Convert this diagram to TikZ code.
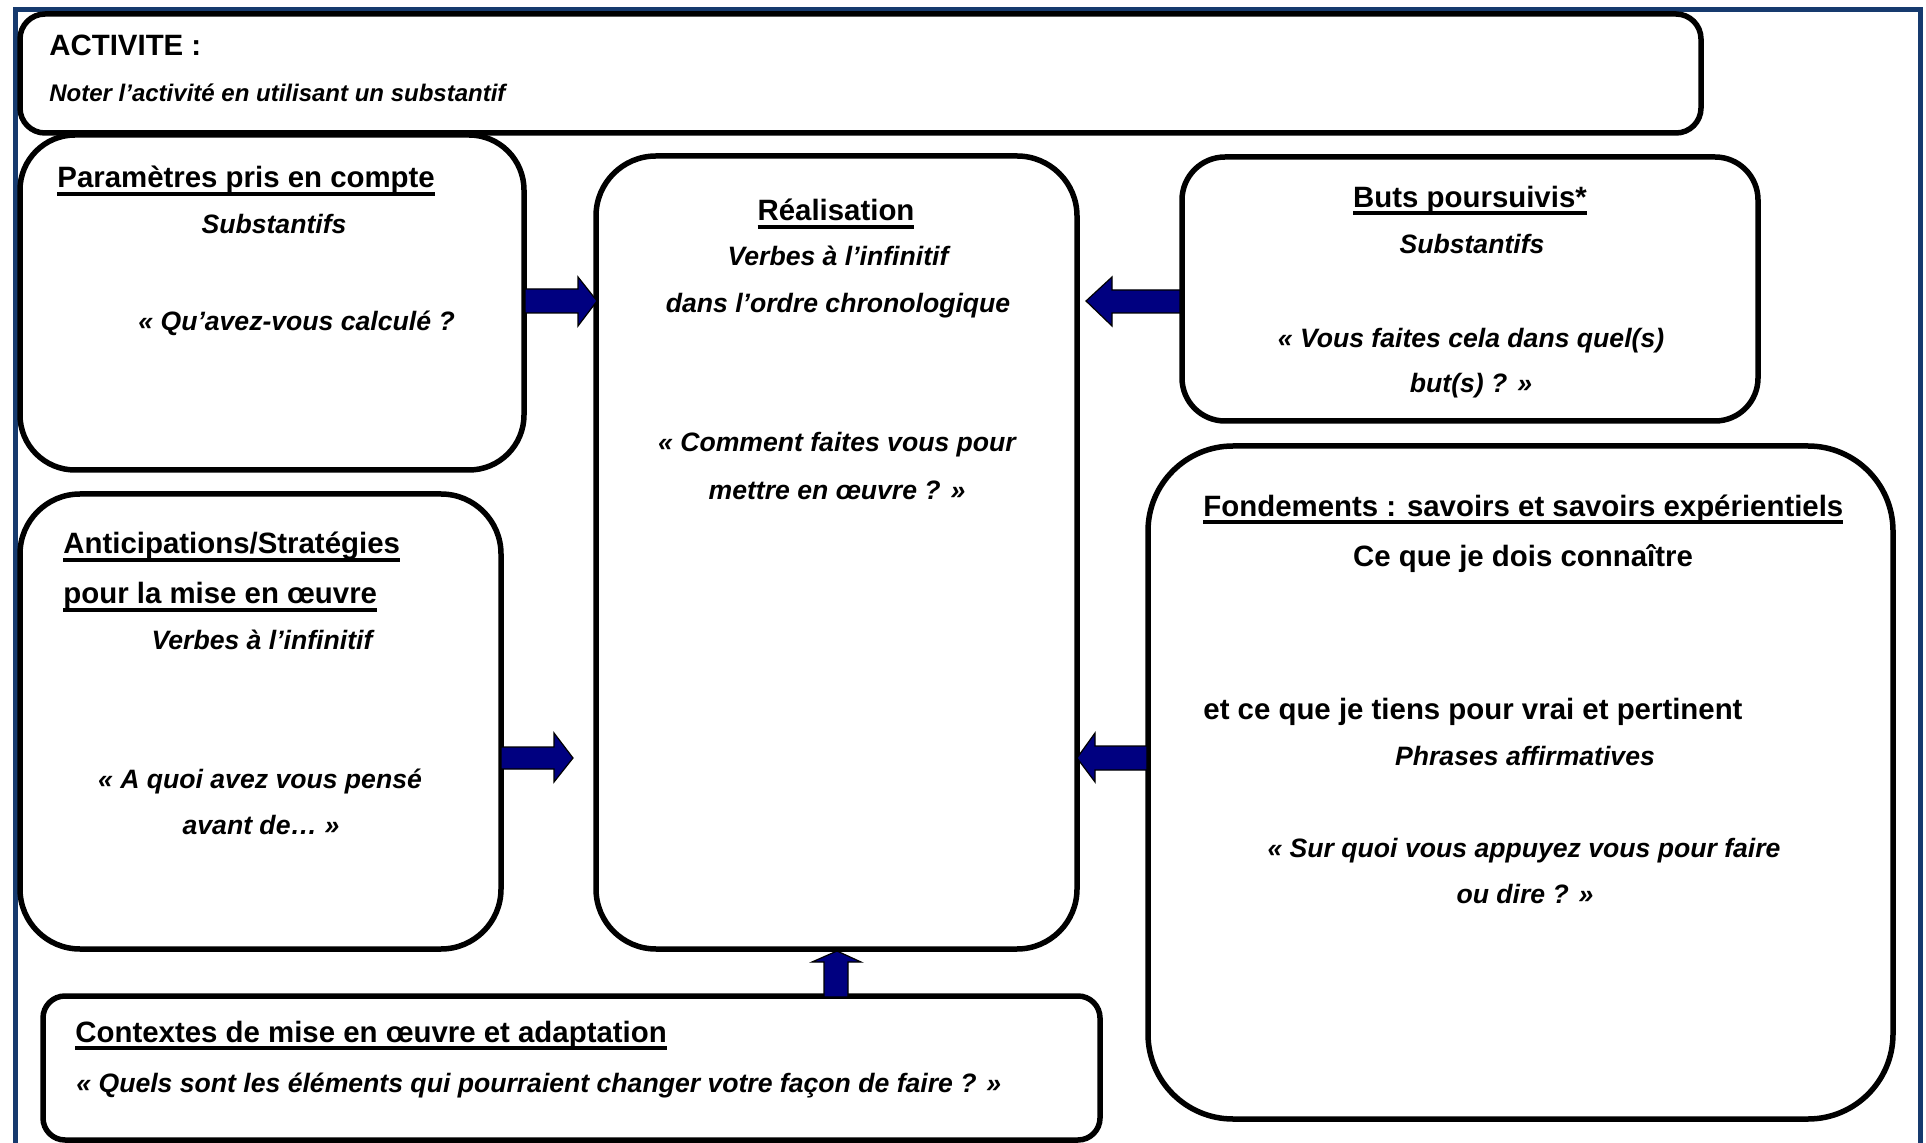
\documentclass[tikz,border=0pt]{standalone}
\usepackage{fontspec}
\setmainfont{Liberation Sans}
\definecolor{bordblue}{RGB}{22,58,110}
\definecolor{arrnavy}{RGB}{0,0,128}
\newcommand\fhead{\fontsize{14.7pt}{17pt}\selectfont\bfseries}
\newcommand\fital{\fontsize{13.3pt}{16pt}\selectfont\bfseries\itshape}
\newcommand\fnote{\fontsize{12pt}{14pt}\selectfont\bfseries\itshape}
\newcommand\myul[1]{\setbox0=\hbox{#1}\rlap{\rule[-4pt]{\wd0}{2pt}}\box0}
\begin{document}
\begin{tikzpicture}[x=0.5pt,y=-0.5pt,
  box/.style={draw=black,line width=2.75pt,fill=white,rectangle,inner sep=0pt},
  txt/.style={inner sep=0pt,anchor=base},
  txtl/.style={inner sep=0pt,anchor=base west},
  barrow/.style={fill=arrnavy,draw=black,line width=0.6pt,line join=miter}]
\useasboundingbox (0,0) rectangle (1926,1143);
\fill[white] (0,0) rectangle (1926,1143);
\draw[bordblue,line width=2.5pt] (15,9.5) rectangle (1920.5,1170);

% boxes
\node[box,rounded corners=12.5pt,minimum width=840.5pt,minimum height=59.5pt] (act) at (860.5,73.5) {};
\node[box,rounded corners=27.5pt,minimum width=252pt,minimum height=167.5pt] (param) at (272,302.5) {};
\node[box,rounded corners=30pt,minimum width=240.5pt,minimum height=396.5pt] (real) at (836.5,552.5) {};
\node[box,rounded corners=21.5pt,minimum width=288pt,minimum height=132pt] (buts) at (1470,289) {};
\node[box,rounded corners=30pt,minimum width=240.5pt,minimum height=227.5pt] (antic) at (260.5,721.5) {};
\node[box,rounded corners=42.5pt,minimum width=372.5pt,minimum height=336.5pt] (fond) at (1520.5,782.5) {};
\node[box,rounded corners=11pt,minimum width=528.5pt,minimum height=72pt] (ctx) at (571.5,1068) {};

% block arrows
\draw[barrow] (525,289) -- (578,289) -- (578,277) -- (597,301) -- (578,326) -- (578,313) -- (525,313) -- cycle;
\draw[barrow] (1180,290) -- (1112,290) -- (1112,277) -- (1086,301) -- (1112,326) -- (1112,313) -- (1180,313) -- cycle;
\draw[barrow] (501,747) -- (554,747) -- (554,733) -- (573,758) -- (554,782) -- (554,769) -- (501,769) -- cycle;
\draw[barrow] (1147,746) -- (1095,746) -- (1095,733) -- (1077,758) -- (1095,782) -- (1095,770) -- (1147,770) -- cycle;
\draw[barrow] (824,997) -- (824,962) -- (812,962) -- (837,951) -- (861,962) -- (848,962) -- (848,997) -- cycle;

% texts: activite
\node[txtl] (a1) at (49,56) {\fhead ACTIVITE :};
\node[txtl] (a2) at (49,102) {\fnote Noter l’activité en utilisant un substantif};
% parametres
\node[txtl] (p1) at (57,188) {\fhead\myul{Paramètres pris en compte}};
\node[txt] (p2) at (274,234) {\fital Substantifs};
\node[txtl] (p3) at (138,331) {\fital « Qu’avez-vous calculé ?};
% realisation
\node[txt] (r1) at (836,221) {\fhead\myul{Réalisation}};
\node[txt] (r2) at (838,266) {\fital Verbes à l’infinitif};
\node[txt] (r3) at (838,313) {\fital dans l’ordre chronologique};
\node[txt] (r4) at (837,452) {\fital « Comment faites vous pour};
\node[txt] (r5) at (837,500) {\fital mettre en œuvre ? »};
% buts
\node[txt] (b1) at (1470,207.5) {\fhead\myul{Buts poursuivis*}};
\node[txt] (b2) at (1472,254) {\fital Substantifs};
\node[txt] (b3) at (1471,347.5) {\fital « Vous faites cela dans quel(s)};
\node[txt] (b4) at (1471,392.5) {\fital but(s) ? »};
% anticipations
\node[txtl] (n1) at (63,554) {\fhead\myul{Anticipations/Stratégies}};
\node[txtl] (n2) at (63,604) {\fhead\myul{pour la mise en œuvre}};
\node[txt] (n3) at (262,650) {\fital Verbes à l’infinitif};
\node[txt] (n4) at (260,788) {\fital « A quoi avez vous pensé};
\node[txt] (n5) at (261,834) {\fital avant de…  »};
% fondements
\node[txtl] (f1) at (1203,516.5) {\fhead\myul{Fondements : savoirs et savoirs expérientiels}};
\node[txt] (f2) at (1523,567) {\fhead Ce que je dois connaître};
\node[txtl] (f3) at (1203,719) {\fhead et ce que je tiens pour vrai et pertinent};
\node[txt] (f4) at (1525,765) {\fital Phrases affirmatives};
\node[txt] (f5) at (1524,857) {\fital « Sur quoi vous appuyez vous pour faire};
\node[txt] (f6) at (1525,903) {\fital ou dire ? »};
% contextes
\node[txtl] (c1) at (75,1042) {\fhead\myul{Contextes de mise en œuvre et adaptation}};
\node[txtl] (c2) at (76,1092) {\fital « Quels sont les éléments qui pourraient changer votre façon de faire ? »};
\end{tikzpicture}
\end{document}
